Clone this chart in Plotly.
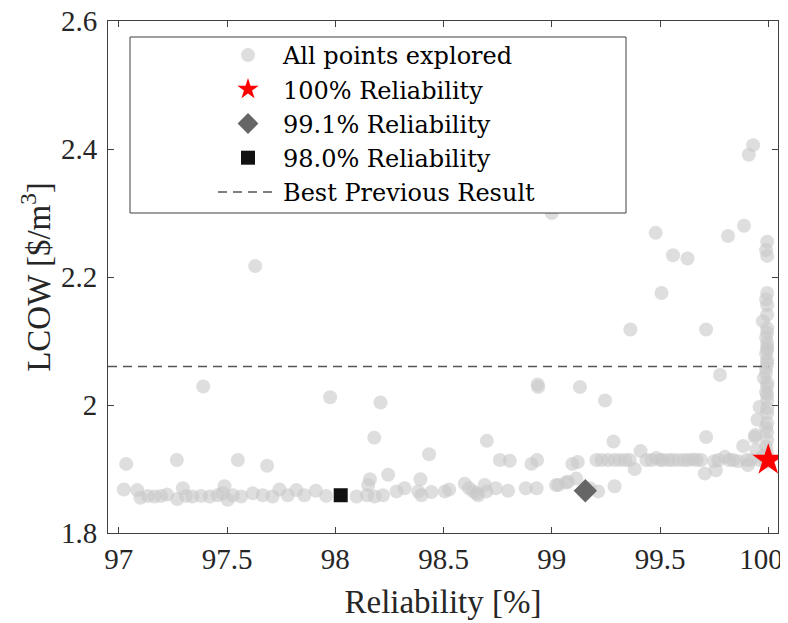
import plotly.graph_objects as go

# ---------------- data ----------------
explored_x = [
    97.63, 99.00, 99.48, 99.56, 99.627, 99.507, 99.93, 99.91, 99.888, 99.814,
    97.39, 97.976, 98.209, 98.935, 98.937, 99.13, 99.246, 99.363, 99.713, 99.777,
    98.18, 98.70, 99.285, 99.713, 98.433,
    # right column near 100 %
    99.995, 99.99, 99.995, 99.995, 99.995, 99.995, 99.975, 99.995, 99.995, 99.995,
    99.995, 99.99, 99.98, 99.995, 99.995, 99.995, 99.96, 99.995, 99.95, 99.995,
    99.995, 99.94, 99.995, 99.99, 99.995, 99.99, 99.995, 99.99, 99.995, 99.99,
    99.995, 99.99, 99.995, 99.99, 99.995, 99.99,
    # left band
    97.034, 97.268, 97.55, 97.685,
    97.023, 97.085, 97.10, 97.134, 97.165, 97.195, 97.223, 97.296, 97.27, 97.31,
    97.34, 97.38, 97.42, 97.457, 97.488, 97.48, 97.503, 97.527, 97.565, 97.619,
    97.665, 97.71, 97.742, 97.78, 97.82, 97.857, 97.91, 97.958,
    # middle band
    98.098, 98.147, 98.16, 98.152, 98.182, 98.22, 98.244, 98.283, 98.32, 98.383,
    98.393, 98.398, 98.444, 98.506, 98.526, 98.598, 98.618, 98.637, 98.652, 98.66,
    98.69, 98.698, 98.741, 98.76, 98.806, 98.798, 98.88, 98.906, 98.932, 98.93,
    99.02, 99.03, 99.066, 99.075, 99.095, 99.12, 99.113, 99.175, 99.214, 99.29,
    # band near 1.914
    99.206, 99.23, 99.26, 99.29, 99.314, 99.34, 99.36, 99.383, 99.41, 99.437,
    99.46, 99.483, 99.50, 99.514, 99.54, 99.56, 99.585, 99.61, 99.63, 99.653,
    99.67, 99.69, 99.707, 99.75, 99.758, 99.77, 99.80, 99.82, 99.838, 99.86,
    99.884, 99.90, 99.906, 99.92, 99.938, 99.945, 99.96, 99.975, 99.99,
]
explored_y = [
    2.217, 2.300, 2.269, 2.234, 2.229, 2.175, 2.406, 2.391, 2.280, 2.264,
    2.029, 2.012, 2.004, 2.032, 2.028, 2.028, 2.007, 2.118, 2.118, 2.047,
    1.949, 1.944, 1.943, 1.950, 1.923,
    2.255, 2.242, 2.233, 2.175, 2.156, 2.141, 2.131, 2.113, 2.097, 2.086,
    2.070, 2.058, 2.042, 2.029, 2.016, 2.008, 1.997, 1.987, 1.977, 1.972,
    1.958, 1.953, 2.120, 2.105, 2.090, 2.080, 2.065, 2.050, 2.035, 2.020,
    1.995, 1.965, 1.945, 1.935, 1.925, 2.165,
    1.908, 1.914, 1.914, 1.905,
    1.868, 1.867, 1.855, 1.858, 1.857, 1.858, 1.860, 1.870, 1.853, 1.858,
    1.857, 1.858, 1.857, 1.859, 1.873, 1.862, 1.852, 1.859, 1.857, 1.862,
    1.859, 1.857, 1.868, 1.859, 1.867, 1.859, 1.866, 1.858,
    1.857, 1.859, 1.884, 1.875, 1.857, 1.859, 1.891, 1.865, 1.870, 1.865,
    1.884, 1.859, 1.864, 1.865, 1.868, 1.877, 1.870, 1.865, 1.862, 1.859,
    1.875, 1.865, 1.870, 1.914, 1.913, 1.866, 1.870, 1.908, 1.914, 1.870,
    1.875, 1.875, 1.879, 1.880, 1.908, 1.911, 1.885, 1.870, 1.865, 1.873,
    1.914, 1.914, 1.914, 1.914, 1.914, 1.914, 1.914, 1.900, 1.928, 1.914,
    1.914, 1.917, 1.914, 1.914, 1.914, 1.914, 1.914, 1.914, 1.914, 1.915,
    1.914, 1.914, 1.893, 1.912, 1.898, 1.914, 1.919, 1.914, 1.914, 1.912,
    1.936, 1.914, 1.906, 1.914, 1.950, 1.930, 1.914, 1.920, 1.910,
]

rel100_x, rel100_y = [100.0], [1.914]
rel991_x, rel991_y = [99.155], [1.866]
rel980_x, rel980_y = [98.025], [1.859]
best_prev_x = [96.95, 100.0]
best_prev_y = [2.06, 2.06]

x_ticks = [97, 97.5, 98, 98.5, 99, 99.5, 100]
x_tick_labels = ["97", "97.5", "98", "98.5", "99", "99.5", "100\u2002"]
y_ticks = [1.8, 2.0, 2.2, 2.4, 2.6]
y_tick_labels = ["1.8", "2", "2.2", "2.4", "2.6"]

FONT = "'Liberation Serif', 'DejaVu Serif', serif"
LEGEND_FONT = "'DejaVu Serif', 'Liberation Serif', serif"
AX = "#404040"

fig = go.Figure()
fig.add_trace(go.Scatter(
    x=explored_x, y=explored_y, mode="markers", name="All points explored",
    marker=dict(size=14, color="rgba(200,200,200,0.6)", line=dict(width=0)),
))
fig.add_trace(go.Scatter(
    x=rel100_x, y=rel100_y, mode="markers", name="100% Reliability",
    marker=dict(symbol="star", size=24, color="#ff0000", line=dict(width=0)),
))
fig.add_trace(go.Scatter(
    x=rel991_x, y=rel991_y, mode="markers", name="99.1% Reliability",
    marker=dict(symbol="diamond", size=18, color="#666666", line=dict(width=0)),
))
fig.add_trace(go.Scatter(
    x=rel980_x, y=rel980_y, mode="markers", name="98.0% Reliability",
    marker=dict(symbol="square", size=14, color="#111111", line=dict(width=0)),
))
fig.add_trace(go.Scatter(
    x=best_prev_x, y=best_prev_y, mode="lines", name="Best Previous Result",
    line=dict(color="#555555", width=1.5, dash="9px,6px"),
))

# the page body has an 8 px default margin, so the figure is drawn 8 px in
OFF = 8
W, H = 788 - OFF, 623 - OFF
L, R, T, B = 108 - OFF, 778 - OFF, 21 - OFF, 533 - OFF   # plot-area edges in figure coords
def px(v): return (v - OFF - L) / (R - L)   # page pixel -> paper x
def py(v): return 1 - (v - OFF - T) / (B - T)  # page pixel -> paper y

fig.add_shape(type="rect", xref="paper", yref="paper",
              x0=px(130), x1=px(626), y0=py(213), y1=py(37),
              line=dict(color=AX, width=1), fillcolor="white", layer="above")

fig.update_layout(
    width=W, height=H,
    margin=dict(l=L, r=W - R, t=T, b=H - B, autoexpand=False),
    paper_bgcolor="white", plot_bgcolor="white",
    font=dict(family=FONT, color="#262626", size=28),
    showlegend=True,
    legend=dict(
        x=px(213), y=py(33), xanchor="left", yanchor="top",
        bgcolor="rgba(0,0,0,0)", borderwidth=0,
        font=dict(family=LEGEND_FONT, size=24, color="#000000"),
        itemwidth=60, itemsizing="trace",
    ),
    xaxis=dict(
        range=[96.95, 100.045], tickvals=x_ticks, ticktext=x_tick_labels,
        showgrid=False, zeroline=False, showline=True, linecolor=AX, linewidth=1,
        mirror="allticks", ticks="inside", ticklen=6, tickcolor=AX,
        tickfont=dict(family=FONT, size=29, color="#262626"),
        ticklabeloverflow="allow", automargin=False,
        title=dict(text="Reliability [%]", font=dict(family=FONT, size=33, color="#262626"),
                   standoff=16),
    ),
    yaxis=dict(
        range=[1.8, 2.6], tickvals=y_ticks, ticktext=y_tick_labels,
        showgrid=False, zeroline=False, showline=True, linecolor=AX, linewidth=1,
        mirror="allticks", ticks="inside", ticklen=6, tickcolor=AX,
        tickfont=dict(family=FONT, size=29, color="#262626"),
        ticklabeloverflow="allow", automargin=False, ticklabelstandoff=4,
        title=dict(text="LCOW [$/m<sup>3</sup>]", font=dict(family=FONT, size=33, color="#262626"),
                   standoff=0),
    ),
)

fig.write_html("out.html")
